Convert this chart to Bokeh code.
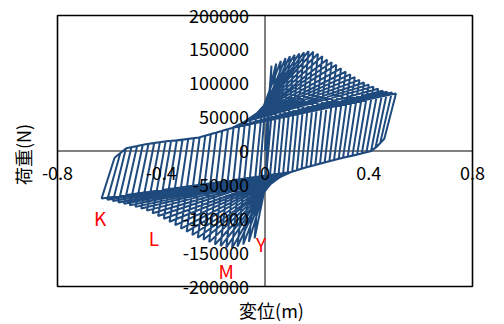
import numpy as np
from bokeh.plotting import figure
from bokeh.models import Range1d, ColumnDataSource, LabelSet, Label
from bokeh.embed import file_html
from bokeh.resources import INLINE
from bokeh.core.properties import value

# ---- data (displacement m, load N) ----
peak_pos_x = [0.025, 0.043, 0.061, 0.079, 0.096, 0.114, 0.132, 0.150, 0.168, 0.186, 0.204, 0.221, 0.239, 0.257,
              0.275, 0.293, 0.311, 0.329, 0.346, 0.364, 0.382, 0.400, 0.418, 0.436, 0.454, 0.471, 0.489, 0.505]
peak_pos_y = [126000, 129000, 133000, 137000, 140000, 142000, 144000, 145500, 147500, 146500, 143500, 140000,
              135000, 131000, 127000, 122000, 117000, 113000, 109000, 105000, 101000, 98000, 95000, 92000,
              89000, 87500, 86500, 85000]
peak_neg_x = [-0.040, -0.062, -0.084, -0.106, -0.127, -0.149, -0.171, -0.193, -0.215, -0.237, -0.259, -0.280,
              -0.302, -0.324, -0.346, -0.368, -0.390, -0.412, -0.433, -0.455, -0.477, -0.499, -0.521, -0.543,
              -0.565, -0.586, -0.608, -0.630]
peak_neg_y = [-129000, -134000, -138000, -141000, -143000, -142500, -140500, -138000, -134500, -131000, -128000,
              -124000, -119000, -114500, -109500, -104500, -100000, -96000, -92000, -88000, -85000, -82500,
              -80000, -78000, -76000, -74000, -72000, -70000]
unload_x = [0.0, 0.0, 0.016, 0.034, 0.051, 0.069, 0.087, 0.105, 0.123, 0.141, 0.159, 0.176, 0.194, 0.212,
            0.230, 0.248, 0.266, 0.284, 0.301, 0.319, 0.337, 0.355, 0.373, 0.391, 0.409, 0.426, 0.444, 0.460]
unload_y = [-54000, -54000, -48900, -44100, -40100, -36400, -33300, -30400, -28300, -26200, -24100, -22400,
            -20600, -18800, -17000, -15200, -13400, -11600, -9900, -8400, -6900, -5400, -3700, -1900, 0,
            4800, 11600, 18000]
reload_x = [0.0, -0.012, -0.034, -0.056, -0.077, -0.099, -0.121, -0.143, -0.165, -0.187, -0.209, -0.230,
            -0.252, -0.274, -0.296, -0.318, -0.340, -0.362, -0.383, -0.405, -0.427, -0.449, -0.471, -0.493,
            -0.515, -0.536, -0.558, -0.580]
reload_y = [63000, 59400, 53100, 47800, 43600, 39400, 35100, 32200, 29800, 27300, 25000, 22700, 20300, 19000,
            17800, 16600, 15700, 15000, 14300, 13100, 11900, 10600, 9100, 7400, 5600, 3900, -3200, -10000]
depart_pos_x = [0.0, 0.0, 0.0, 0.0, -0.01, -0.01, -0.02, -0.02, -0.03, -0.03, -0.04, -0.04, -0.05, -0.05,
                -0.06, -0.06, -0.06, -0.07, -0.07, -0.08, -0.08, -0.08, -0.09, -0.09, -0.10, -0.10, -0.10, -0.10]
depart_neg_x = [0.0, 0.0, 0.0, 0.0, 0.01, 0.01, 0.02, 0.02, 0.03, 0.03, 0.04, 0.04, 0.05, 0.05,
                0.06, 0.06, 0.06, 0.07, 0.07, 0.08, 0.08, 0.08, 0.09, 0.09, 0.10, 0.10, 0.10, 0.10]
upper_left_x = [-0.58, -0.535, -0.46, -0.38, -0.33, -0.255, -0.19, -0.127, -0.08, -0.045, -0.02, 0.0]
upper_left_y = [-10000, 4000, 10000, 14500, 16000, 20000, 27000, 34000, 43000, 50000, 57000, 63000]
lower_right_x = [0.46, 0.43, 0.41, 0.36, 0.30, 0.24, 0.16, 0.10, 0.06, 0.03, 0.012, 0.0]
lower_right_y = [18000, 6000, 0, -5000, -10000, -16000, -24000, -31000, -38000, -45000, -50000, -54000]

x_min, x_max = -0.8, 0.8
y_min, y_max = -200000, 200000
x_ticks = [-0.8, -0.4, 0.0, 0.4, 0.8]
x_tick_labels = ["-0.8", "-0.4", "0", "0.4", "0.8"]
y_ticks = [200000, 150000, 100000, 50000, 0, -50000, -100000, -150000, -200000]
y_tick_labels = ["200000", "150000", "100000", "50000", "0", "-50000", "-100000", "-150000", "-200000"]

note_text = ["K", "L", "M", "Y"]
note_x = [-0.636, -0.428, -0.150, -0.015]
note_y = [-98000, -127700, -176000, -136500]

x_title = "変位(m)"
y_title = "荷重(N)"

# ---- build the continuous hysteresis path from the cycle key points ----
xs, ys = [0.0], [0.0]
for i in range(len(peak_pos_x)):
    xs.append(peak_pos_x[i]); ys.append(peak_pos_y[i])
    xs.append(unload_x[i]); ys.append(unload_y[i])
    for xv, yv in zip(lower_right_x, lower_right_y):
        if xv < unload_x[i] - 0.015 and xv >= depart_neg_x[i]:
            xs.append(xv); ys.append(yv)
    xs.append(peak_neg_x[i]); ys.append(peak_neg_y[i])
    xs.append(reload_x[i]); ys.append(reload_y[i])
    for xv, yv in zip(upper_left_x, upper_left_y):
        if xv > reload_x[i] + 0.015 and xv <= depart_pos_x[i]:
            xs.append(xv); ys.append(yv)

# ---- layout: the plot box occupies pixels [57,472] x [15,286] of the canvas ----
W, H = 504, 324
BOX_L, BOX_R, BOX_T, BOX_B = 57, 472, 15, 286
sx = (x_max - x_min) / (BOX_R - BOX_L)
sy = (y_max - y_min) / (BOX_B - BOX_T)
xr = Range1d(x_min - BOX_L * sx, x_max + (W - BOX_R) * sx)
yr = Range1d(y_min - (H - BOX_B) * sy, y_max + BOX_T * sy)

def px_x(px):
    return xr.start + px * sx

def px_y(py):
    return yr.end - py * sy

FONT = "Noto Sans CJK JP"

p = figure(width=W, height=H, output_backend="svg", toolbar_location=None,
           x_range=xr, y_range=yr, min_border=0,
           min_border_left=0, min_border_right=0, min_border_top=0, min_border_bottom=0)
p.xaxis.visible = False
p.yaxis.visible = False
p.grid.visible = False
p.outline_line_color = None
p.background_fill_color = "white"
p.border_fill_color = "white"

# centre axes (grey) and plot box (black)
p.segment(x0=[x_min, 0], y0=[0, y_min], x1=[x_max, 0], y1=[0, y_max], line_color="#808080", line_width=2)
p.quad(left=[x_min], right=[x_max], bottom=[y_min], top=[y_max], fill_color=None,
       line_color="black", line_width=1.6)

p.line(xs, ys, line_color="#1F4A7E", line_width=2)

xsrc = ColumnDataSource(dict(x=x_ticks, y=[0] * len(x_ticks), t=x_tick_labels))
p.add_layout(LabelSet(x="x", y="y", text="t", source=xsrc, text_font=value(FONT), text_font_size="18px",
                      text_align="center", text_baseline="top", y_offset=-15, text_color="black"))
ysrc = ColumnDataSource(dict(x=[0] * len(y_ticks), y=y_ticks, t=y_tick_labels))
p.add_layout(LabelSet(x="x", y="y", text="t", source=ysrc, text_font=value(FONT), text_font_size="18px",
                      text_align="right", text_baseline="middle", x_offset=-16, text_color="black"))

nsrc = ColumnDataSource(dict(x=note_x, y=note_y, t=note_text))
p.add_layout(LabelSet(x="x", y="y", text="t", source=nsrc, text_font=value(FONT), text_font_size="19px",
                      text_align="center", text_baseline="middle", text_color="#FF0000"))

p.add_layout(Label(x=px_x(271), y=px_y(309), text=x_title, text_font=FONT, text_font_size="18px",
                   text_align="center", text_baseline="middle", text_color="black"))
p.add_layout(Label(x=px_x(22), y=px_y(154), text=y_title, text_font=FONT, text_font_size="18px",
                   text_align="center", text_baseline="middle", angle=np.pi / 2, text_color="black"))

open("out.html", "w").write(file_html(p, INLINE))
